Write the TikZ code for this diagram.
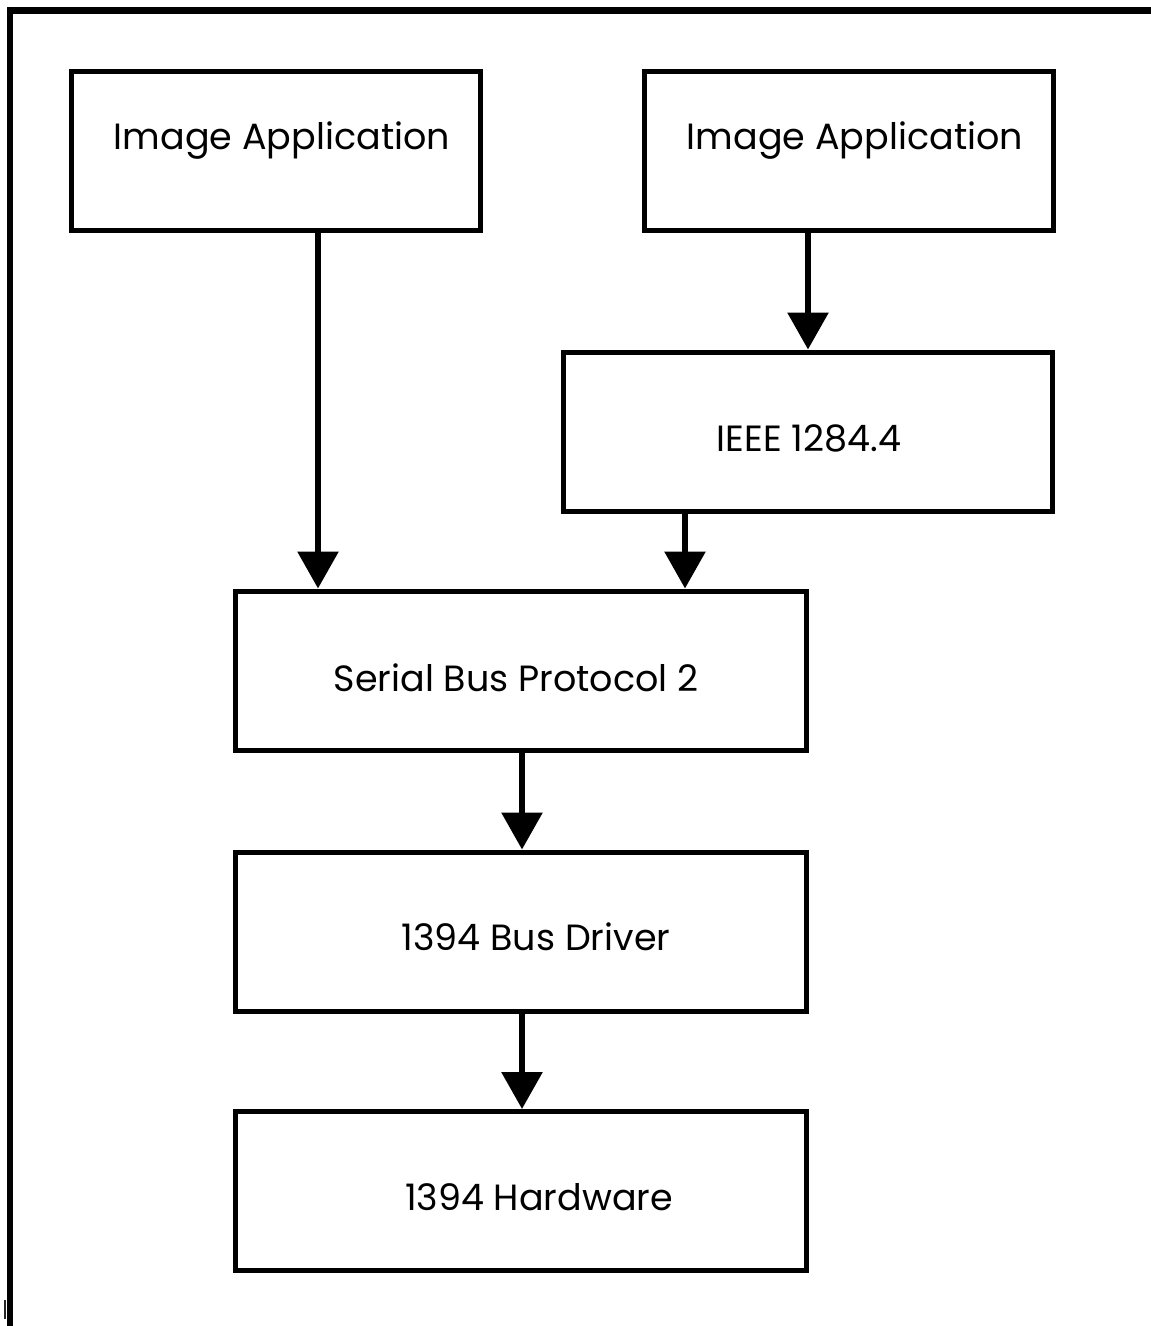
\documentclass[tikz,border=0pt]{standalone}
\usepackage{fontspec}
\setmainfont{Poppins}
\usetikzlibrary{arrows.meta}
\tikzset{
  layer/.style={draw=black, line width=5pt, fill=white, inner sep=0pt},
  caption/.style={font=\fontsize{36.5}{44}\selectfont, inner sep=0pt, anchor=center},
  flow/.style={line width=6pt, -{Triangle[length=37pt,width=40pt]}},
  frameline/.style={line width=6.5pt, line cap=rect}
}
\begin{document}
\begin{tikzpicture}[x=1pt,y=-1pt]
  \useasboundingbox (0,0) rectangle (1151,1326);
  \fill[white] (0,0) rectangle (1151,1326);

  % outer frame (top and left sides only)
  \coordinate (fa) at (10,1326);
  \coordinate (fb) at (10,10.5);
  \coordinate (fc) at (1155,10.5);
  \draw[frameline] (fa) -- (fb) -- (fc);
  \coordinate (ma) at (4.5,1300);
  \coordinate (mb) at (4.5,1319);
  \draw[line width=2pt, black!85] (ma) -- (mb);

  % protocol stack boxes
  \node[layer, minimum width=409pt, minimum height=159pt] (appa) at (276,151) {};
  \node[layer, minimum width=409pt, minimum height=159pt] (appb) at (848.5,151) {};
  \node[layer, minimum width=489pt, minimum height=159pt] (ieee) at (808,431.5) {};
  \node[layer, minimum width=571pt, minimum height=159pt] (sbp) at (521,670.5) {};
  \node[layer, minimum width=571pt, minimum height=159pt] (drv) at (521,931.5) {};
  \node[layer, minimum width=571pt, minimum height=159pt] (hw) at (521,1191) {};

  % box captions
  \node[caption] (tappa) at (282,141) {Image Application};
  \node[caption] (tappb) at (855,141) {Image Application};
  \node[caption] (tieee) at (809,438) {IEEE 1284.4};
  \node[caption] (tsbp) at (516,678) {Serial Bus Protocol 2};
  \node[caption] (tdrv) at (536,937) {1394 Bus Driver};
  \node[caption] (thw) at (539,1197) {1394 Hardware};

  % data flow between layers
  \draw[flow] (appa.south -| 318,0) -- (sbp.north -| 318,0);
  \draw[flow] (appb.south -| 808,0) -- (ieee.north -| 808,0);
  \draw[flow] (ieee.south -| 685,0) -- (sbp.north -| 685,0);
  \draw[flow] (sbp.south -| 522,0) -- (drv.north -| 522,0);
  \draw[flow] (drv.south -| 522,0) -- (hw.north -| 522,0);
\end{tikzpicture}
\end{document}
